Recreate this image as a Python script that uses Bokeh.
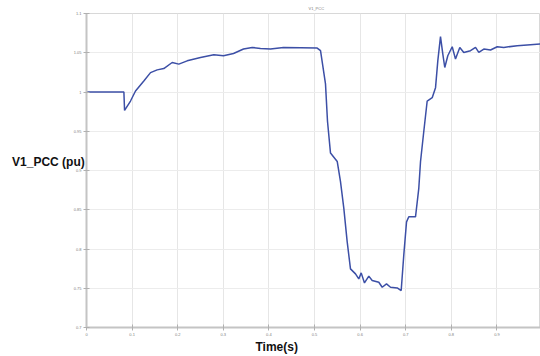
from bokeh.plotting import figure
from bokeh.models import FixedTicker, ColumnDataSource, Title
from bokeh.embed import file_html
from bokeh.resources import INLINE

# Voltage at the point of common coupling (pu) over time (s)
time_s = [0.0, 0.082, 0.0835, 0.0965, 0.1075, 0.1257, 0.1404, 0.1550, 0.1695, 0.1879,
          0.2024, 0.2208, 0.2500, 0.2792, 0.3004, 0.3224, 0.3443, 0.3634, 0.3816, 0.4035,
          0.4320, 0.4693, 0.5059, 0.5132, 0.5241, 0.5285, 0.5351, 0.5498, 0.5570, 0.5643,
          0.5717, 0.5789, 0.5899, 0.5971, 0.6024, 0.6096, 0.6191, 0.6265, 0.6410, 0.6485,
          0.6579, 0.6667, 0.6814, 0.6901, 0.6958, 0.7018, 0.7068, 0.7215, 0.7287, 0.7325,
          0.7397, 0.7471, 0.7581, 0.7654, 0.7704, 0.7763, 0.7814, 0.7857, 0.7923, 0.8020,
          0.8092, 0.8186, 0.8274, 0.8421, 0.8531, 0.8603, 0.8713, 0.8860, 0.9007, 0.9151,
          0.9445, 0.9737, 0.9960]
v1_pcc = [1.000, 1.000, 0.9765, 0.9885, 1.0013, 1.0141, 1.0247, 1.0282, 1.0299, 1.0376,
          1.0355, 1.0397, 1.0440, 1.0474, 1.0462, 1.0491, 1.0547, 1.0568, 1.0555, 1.0547,
          1.0568, 1.0564, 1.0560, 1.0526, 1.0103, 0.9628, 0.9222, 0.9115, 0.8859, 0.8517,
          0.8090, 0.7747, 0.7683, 0.7619, 0.7696, 0.7568, 0.7654, 0.7599, 0.7577, 0.7513,
          0.7555, 0.7513, 0.7504, 0.7471, 0.7923, 0.8346, 0.8410, 0.8410, 0.8773, 0.9115,
          0.9500, 0.9885, 0.9927, 1.0055, 1.0397, 1.0705, 1.0483, 1.0312, 1.0462, 1.0577,
          1.0419, 1.0568, 1.0504, 1.0526, 1.0568, 1.0504, 1.0547, 1.0535, 1.0577, 1.0568,
          1.0590, 1.0603, 1.0612]

x_ticks = [0.0, 0.1, 0.2, 0.3, 0.4, 0.5, 0.6, 0.7, 0.8, 0.9]
y_ticks = [0.7, 0.75, 0.8, 0.85, 0.9, 0.95, 1.0, 1.05, 1.1]

p = figure(width=540, height=356, output_backend="svg", toolbar_location=None,
           x_range=(0.0, 0.9956), y_range=(0.7, 1.1),
           min_border_left=86, min_border_right=0, min_border_top=0, min_border_bottom=0)

p.background_fill_color = "white"
p.border_fill_color = "white"
p.outline_line_color = "#d8d8d8"

src = ColumnDataSource(dict(t=time_s, v=v1_pcc))
p.line("t", "v", source=src, line_color="#3c4fa6", line_width=1.5)

for ax in (p.xaxis[0], p.yaxis[0]):
    ax.axis_line_color = "#c4c4c4"
    ax.axis_line_width = 2
    ax.major_tick_line_color = "#b0b0b0"
    ax.major_tick_in = 3
    ax.major_tick_out = 3
    ax.minor_tick_line_color = None
    ax.major_label_text_font_size = "4px"
    ax.major_label_text_color = "#808080"
    ax.major_label_standoff = 2

p.xaxis[0].ticker = FixedTicker(ticks=x_ticks)
p.yaxis[0].ticker = FixedTicker(ticks=y_ticks)

# y-axis title written horizontally, pulled in next to the tick labels;
# the empty second line lifts it a little above the frame's middle
yax = p.yaxis[0]
yax.axis_label = "V1_PCC (pu)\n "
yax.axis_label_orientation = "horizontal"
yax.axis_label_text_font = "Liberation Sans"
yax.axis_label_text_font_style = "bold"
yax.axis_label_text_font_size = "12px"
yax.axis_label_text_color = "#111111"
yax.axis_label_standoff = -14

p.xgrid.grid_line_color = "#e6e6e6"
p.ygrid.grid_line_color = "#ececec"
p.xgrid.ticker = FixedTicker(ticks=x_ticks)
p.ygrid.ticker = FixedTicker(ticks=y_ticks)

p.add_layout(Title(text="Time(s)", align="left", offset=169, text_font="Liberation Sans",
                   text_font_style="bold", text_font_size="12px", text_color="#111111",
                   standoff=-2), "below")
p.add_layout(Title(text=" ", text_font_size="2px", standoff=0), "below")
p.add_layout(Title(text="V1_PCC", align="left", offset=222, text_font="Liberation Sans",
                   text_font_style="normal", text_font_size="4px", text_color="#808080",
                   standoff=6), "above")

open("out.html", "w").write(file_html(p, INLINE))
